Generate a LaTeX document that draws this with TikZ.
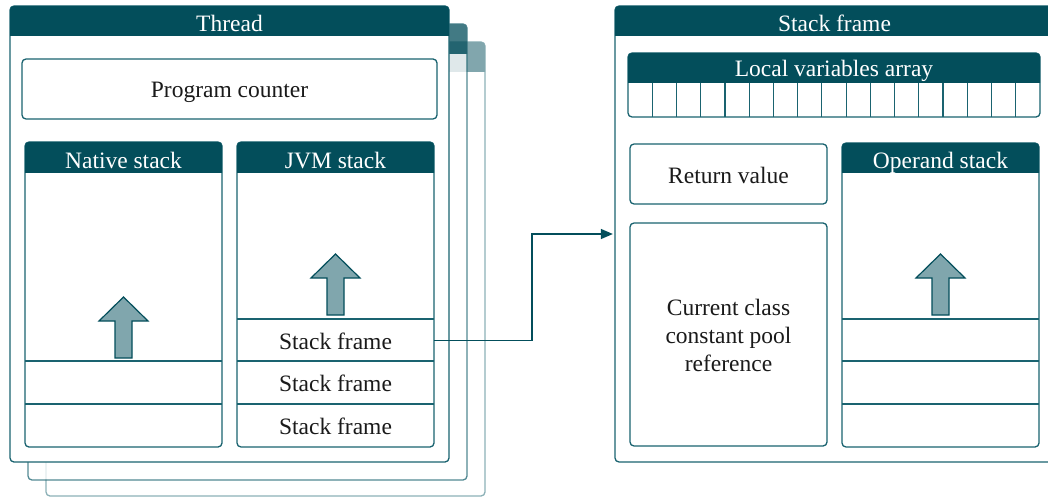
\documentclass[tikz,border=0pt]{standalone}
\usepackage{fontspec}
\setmainfont{Liberation Serif}
\usetikzlibrary{arrows.meta,fit}
\definecolor{deep}{HTML}{034E5B}
\definecolor{rim}{HTML}{1A6370}
\definecolor{pale}{HTML}{80A6AD}
\definecolor{ink}{HTML}{1A1A1A}
% filled title strip across the top of a panel: x1, y1, x2, strip bottom
\newcommand\headbar[4]{\fill[deep] (#1,#4) [rounded corners=4pt] -- (#1,#2) -- (#3,#2) [sharp corners] -- (#3,#4) -- cycle;}
\begin{document}
\begin{tikzpicture}[x=1pt,y=-1pt,
  txt/.style={font=\fontsize{23.5}{28}\selectfont, text=ink, inner sep=0pt},
  head/.style={font=\fontsize{23.5}{28}\selectfont, text=white, inner sep=0pt},
  box/.style={draw=rim, line width=1.3pt, fill=white, rounded corners=4pt, inner sep=0pt},
  area/.style={inner sep=0pt},
  cellline/.style={draw=rim, line width=1.2pt},
  link/.style={draw=deep, line width=1.3pt, shorten >=1.5pt, -{Triangle[length=12pt,width=10pt]}},
  growth/.pic={\filldraw[fill=pale, draw=deep, line width=1.2pt, line join=miter]
     (-8.5,0) -- (-8.5,-37) -- (-24.5,-37) -- (0,-61) -- (24.5,-37) -- (8.5,-37) -- (8.5,0) -- cycle;}
]
\useasboundingbox (0,0) rectangle (1048,497);

% ---- stacked copies behind the thread ----
\begin{scope}[transparency group, opacity=0.5]
  \node[box, fit={(46,42) (485,496)}] (thread3) {};
  \headbar{46}{42}{485}{72}
\end{scope}
\begin{scope}[transparency group, opacity=0.75]
  \node[box, fit={(28,24) (467,480)}] (thread2) {};
  \headbar{28}{24}{467}{54}
\end{scope}

% ---- thread ----
\node[box, fit={(10,6) (449,462)}] (thread) {};
\headbar{10}{6}{449}{36}
\node[head, anchor=base] (thread-title) at (229.5,32) {Thread};

\node[box, fit={(22,59) (437,119)}] (pc) {};
\node[txt, anchor=base] (pc-text) at (229.5,97.5) {Program counter};

% native stack
\node[box, fit={(25,142) (222,447)}] (native) {};
\headbar{25}{142}{222}{173}
\node[head, anchor=base] (native-title) at (123.5,168.5) {Native stack};
\draw[cellline] (25,361) -- (222,361);
\draw[cellline] (25,404) -- (222,404);
\pic at (123.5,358) {growth};

% JVM stack
\node[box, fit={(237,142) (434,447)}] (jvm) {};
\headbar{237}{142}{434}{173}
\node[head, anchor=base] (jvm-title) at (335.5,168.5) {JVM stack};
\draw[cellline] (237,319) -- (434,319);
\draw[cellline] (237,361) -- (434,361);
\draw[cellline] (237,404) -- (434,404);
\node[area, fit={(237,319) (434,362)}] (sf1) {};
\node[area, fit={(237,361) (434,404)}] (sf2) {};
\node[area, fit={(237,404) (434,447)}] (sf3) {};
\node[txt, anchor=base] (sf1-text) at (335.5,349) {Stack frame};
\node[txt, anchor=base] (sf2-text) at (335.5,391) {Stack frame};
\node[txt, anchor=base] (sf3-text) at (335.5,434) {Stack frame};
\pic at (335.5,315) {growth};

% ---- stack frame ----
\node[box, fit={(615,6) (1054,462)}] (frame) {};
\headbar{615}{6}{1054}{36}
\node[head, anchor=base] (frame-title) at (834.5,32) {Stack frame};

% local variables array
\node[box, fit={(628,53) (1040,117)}] (locals) {};
\headbar{628}{53}{1040}{83}
\node[head, anchor=base] (locals-title) at (834,77) {Local variables array};
\foreach \k in {1,...,16}
  \draw[cellline] ({628+\k*412/17},83) -- ({628+\k*412/17},117);

\node[box, fit={(630,144) (827,204)}] (ret) {};
\node[txt, anchor=base] (ret-text) at (728.5,183) {Return value};

\node[box, fit={(630,223) (827,446)}] (pool) {};
\node[txt, align=center] (pool-text) at (728.5,335.5) {Current class\\constant pool\\reference};

% operand stack
\node[box, fit={(842,143) (1039,447)}] (operand) {};
\headbar{842}{143}{1039}{173}
\node[head, anchor=base] (operand-title) at (940.5,168.5) {Operand stack};
\draw[cellline] (842,319) -- (1039,319);
\draw[cellline] (842,361) -- (1039,361);
\draw[cellline] (842,404) -- (1039,404);
\pic at (940.5,315) {growth};

% ---- current frame points to its layout ----
\draw[link] (sf1.east) -| (532,288) |- (frame.west);
\end{tikzpicture}
\end{document}
